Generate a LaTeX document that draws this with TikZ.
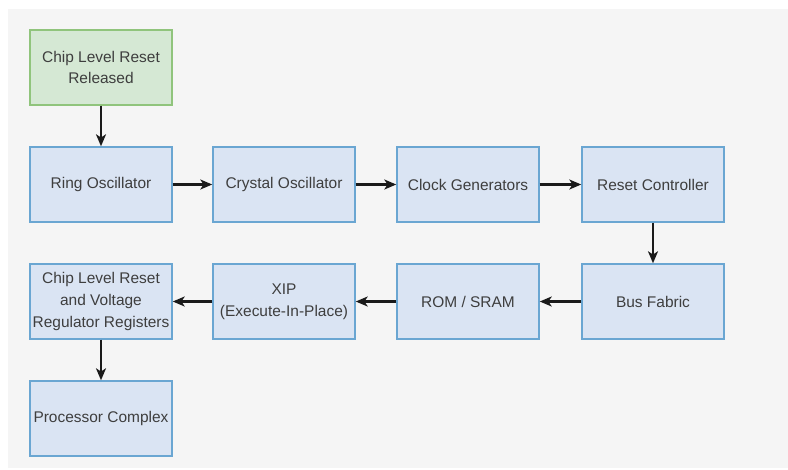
\documentclass[tikz,border=0pt]{standalone}
\usepackage{fontspec}
\setmainfont{Liberation Sans}
\usetikzlibrary{arrows.meta}
\definecolor{bg}{HTML}{F5F5F5}
\definecolor{bfill}{HTML}{DAE4F3}
\definecolor{bline}{HTML}{6AA6D2}
\definecolor{gfill}{HTML}{D5E8D4}
\definecolor{gline}{HTML}{90C47C}
\definecolor{txt}{HTML}{3E3E3E}
\definecolor{arr}{HTML}{1A1A1A}
\begin{document}
\begin{tikzpicture}[x=0.75pt,y=-0.75pt,
  blk/.style={draw=bline,fill=bfill,line width=1.1pt,minimum width=106.5pt,minimum height=56.25pt,inner sep=1pt,align=center,text=txt,font=\fontsize{11.6}{16.2}\selectfont},
  gblk/.style={blk,draw=gline,fill=gfill},
  conn/.style={draw=arr,line width=1.6pt,-{Stealth[length=9pt,width=7.5pt,inset=2.5pt]}}]
\useasboundingbox (0,0) rectangle (788,469);
\fill[white] (0,0) rectangle (788,469);
\fill[bg] (8,9) rectangle (788,468);
\node[gblk] (start) at (101,67.5) {Chip Level Reset\\Released};
\node[blk] (ring) at (101,184.5) {Ring Oscillator};
\node[blk] (xtal) at (284,184.5) {Crystal Oscillator};
\node[blk] (clk) at (468,184.5) {Clock Generators};
\node[blk] (rst) at (653,184.5) {Reset Controller};
\node[blk] (bus) at (653,301.5) {Bus Fabric};
\node[blk] (rom) at (468,301.5) {ROM / SRAM};
\node[blk] (xip) at (284,301.5) {XIP\\(Execute-In-Place)};
\node[blk] (vreg) at (101,301.5) {Chip Level Reset\\and Voltage\\Regulator Registers};
\node[blk] (proc) at (101,418.5) {Processor Complex};
\draw[conn] (start) -- (ring);
\draw[conn] (ring) -- (xtal);
\draw[conn] (xtal) -- (clk);
\draw[conn] (clk) -- (rst);
\draw[conn] (rst) -- (bus);
\draw[conn] (bus) -- (rom);
\draw[conn] (rom) -- (xip);
\draw[conn] (xip) -- (vreg);
\draw[conn] (vreg) -- (proc);
\end{tikzpicture}
\end{document}
